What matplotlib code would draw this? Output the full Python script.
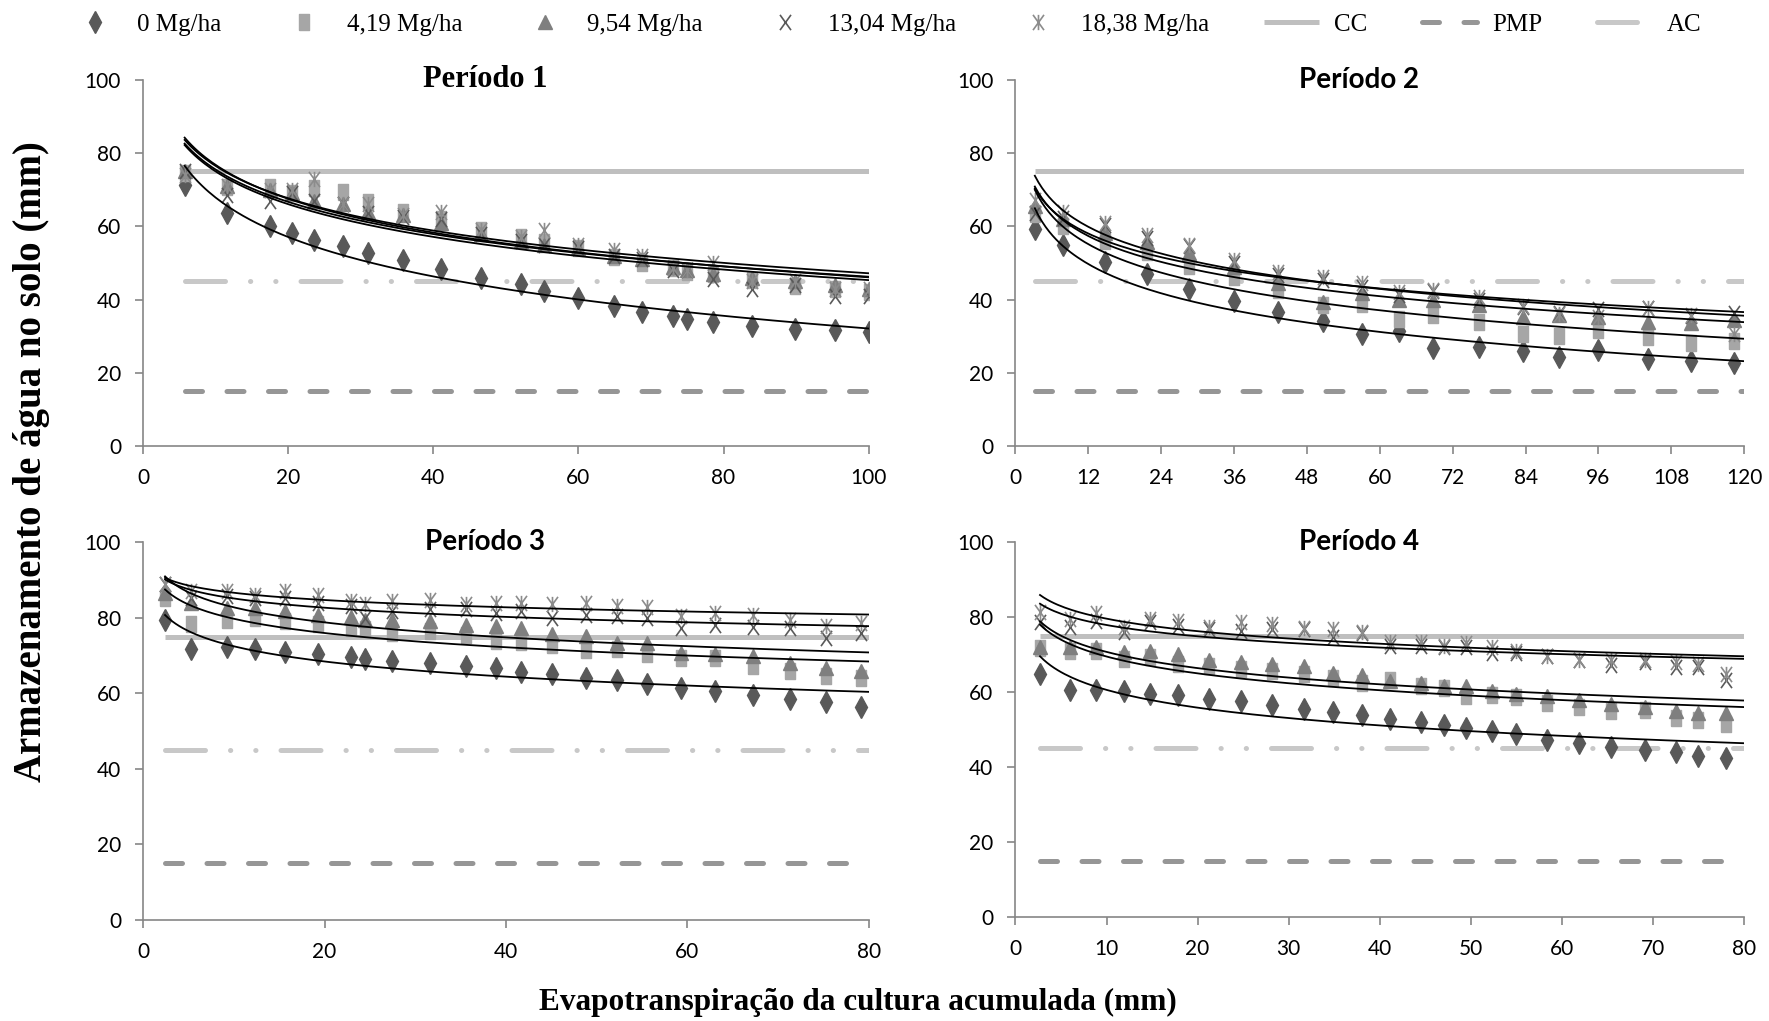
import numpy as np
import matplotlib
matplotlib.use('Agg')
import matplotlib.pyplot as plt
from matplotlib.path import Path
from matplotlib.lines import Line2D

# doses de lodo (legenda)
doses = ['0 Mg/ha', '4,19 Mg/ha', '9,54 Mg/ha', '13,04 Mg/ha', '18,38 Mg/ha']
CC = 75
PMP = 15
AC = 45

# Periodo 1
p1_x = [5.7, 11.6, 17.5, 20.5, 23.6, 27.5, 31.0, 35.8, 41.0, 46.5, 52.1, 55.2, 59.9, 64.9, 68.7, 73.1, 75.0, 78.5, 83.9, 89.8, 95.4, 100.0]
p1_y0 = [71.3, 63.7, 60.2, 58.1, 56.2, 54.6, 52.8, 50.8, 48.3, 45.9, 44.2, 42.4, 40.5, 38.2, 36.6, 35.6, 34.7, 33.9, 32.9, 32.1, 31.6, 31.1]
p1_y419 = [74.5, 70.8, 70.6, 69.0, 70.4, 69.3, 66.5, 64.0, 61.9, 59.0, 57.2, 55.8, 54.2, 51.7, 50.0, 48.5, 47.6, 47.1, 45.3, 43.7, 42.8, 42.1]
p1_y954 = [75.0, 71.0, 70.0, 69.0, 67.0, 66.0, 64.0, 63.0, 61.0, 58.0, 56.0, 55.0, 54.0, 52.0, 51.0, 49.0, 48.0, 47.0, 46.0, 45.0, 44.0, 43.0]
p1_y1304 = [75.0, 68.5, 67.0, 69.0, 67.0, 66.0, 63.5, 62.5, 62.0, 58.0, 56.0, 55.0, 54.0, 52.0, 51.0, 48.0, 48.0, 45.5, 43.0, 44.0, 41.0, 41.0]
p1_y1838 = [74.0, 71.0, 70.0, 70.0, 73.0, 66.0, 66.0, 63.0, 64.0, 59.0, 57.0, 59.0, 55.0, 53.5, 52.0, 48.5, 48.0, 50.0, 45.0, 45.0, 43.0, 43.0]

# Periodo 2
p2_x = [3.2, 7.9, 14.8, 21.7, 28.6, 36.0, 43.3, 50.7, 57.0, 63.1, 68.7, 76.3, 83.5, 89.5, 95.9, 104.1, 111.3, 118.3]
p2_y0 = [59.2, 54.8, 50.2, 47.1, 42.9, 39.7, 36.5, 34.1, 30.7, 31.3, 26.9, 27.1, 25.9, 24.3, 26.3, 23.7, 23.2, 22.7]
p2_y419 = [63.3, 60.2, 56.0, 52.9, 49.2, 46.2, 42.6, 38.5, 38.7, 34.8, 35.7, 33.9, 30.7, 30.1, 31.8, 29.8, 28.2, 28.6]
p2_y954 = [65.4, 61.9, 58.1, 55.8, 52.6, 48.9, 44.4, 39.4, 41.7, 40.0, 39.8, 38.5, 35.3, 35.7, 35.3, 33.9, 33.5, 34.4]
p2_y1304 = [63.5, 62.2, 60.3, 56.7, 54.7, 50.1, 46.7, 45.3, 43.5, 41.2, 42.4, 39.8, 38.0, 36.4, 37.3, 37.6, 35.5, 36.4]
p2_y1838 = [67.2, 64.0, 60.8, 57.6, 54.9, 50.8, 47.6, 46.2, 44.4, 42.1, 42.6, 40.7, 38.2, 36.0, 35.3, 37.6, 35.7, 30.5]

# Periodo 3
p3_x = [2.4, 5.3, 9.2, 12.3, 15.6, 19.3, 22.9, 24.4, 27.4, 31.6, 35.6, 38.9, 41.7, 45.1, 48.8, 52.3, 55.6, 59.3, 63.1, 67.2, 71.3, 75.3, 79.2]
p3_y0 = [79.3, 71.6, 72.2, 71.8, 71.0, 70.5, 69.6, 69.1, 68.5, 67.9, 67.3, 66.6, 65.7, 65.0, 64.1, 63.4, 62.4, 61.5, 60.6, 59.6, 58.4, 57.6, 56.4]
p3_y419 = [85.1, 78.4, 79.5, 80.0, 79.1, 78.4, 77.2, 76.9, 76.0, 76.4, 75.4, 73.8, 73.6, 72.9, 71.4, 71.6, 70.5, 69.4, 69.4, 67.2, 65.9, 64.6, 64.0]
p3_y954 = [86.6, 83.9, 82.6, 82.6, 81.9, 80.8, 80.2, 79.3, 79.5, 79.1, 78.0, 77.8, 77.3, 75.6, 75.1, 73.4, 73.4, 70.7, 70.3, 69.9, 68.1, 66.8, 65.9]
p3_y1304 = [88.8, 85.2, 85.7, 85.2, 85.2, 83.9, 83.0, 80.0, 81.7, 82.2, 82.2, 81.3, 81.9, 80.0, 80.8, 80.4, 80.0, 77.3, 78.2, 77.5, 77.3, 74.7, 76.0]
p3_y1838 = [88.8, 87.0, 87.0, 86.1, 87.0, 85.9, 84.4, 83.7, 84.5, 84.8, 83.7, 83.9, 83.9, 83.5, 83.9, 83.0, 82.8, 80.4, 81.3, 80.8, 79.3, 77.8, 78.6]

# Periodo 4
p4_x = [2.7, 6.0, 8.9, 11.9, 14.8, 17.9, 21.3, 24.8, 28.2, 31.7, 34.9, 38.0, 41.1, 44.5, 47.0, 49.5, 52.3, 54.9, 58.4, 61.9, 65.4, 69.1, 72.5, 74.9, 78.0]
p4_y0 = [64.8, 60.6, 60.6, 60.3, 59.6, 59.2, 58.1, 57.5, 56.6, 55.6, 54.8, 53.9, 52.8, 52.0, 51.2, 50.3, 49.5, 48.7, 47.3, 46.5, 45.4, 44.6, 43.9, 43.0, 42.4]
p4_y419 = [71.7, 71.0, 71.0, 68.8, 69.3, 67.5, 67.0, 66.1, 65.5, 64.8, 63.7, 62.3, 63.2, 61.7, 61.0, 59.0, 59.3, 58.6, 57.2, 55.9, 55.0, 55.2, 53.0, 52.5, 51.6]
p4_y954 = [71.9, 72.1, 71.9, 70.6, 70.9, 70.1, 68.5, 67.9, 67.6, 67.0, 65.0, 64.6, 63.0, 62.3, 61.5, 61.7, 60.3, 59.6, 59.0, 57.8, 56.8, 56.1, 55.0, 54.3, 54.3]
p4_y1304 = [78.6, 77.4, 79.0, 75.9, 78.6, 77.7, 76.8, 76.4, 76.8, 76.8, 74.6, 75.7, 72.4, 72.4, 71.9, 71.9, 70.3, 70.3, 69.7, 68.5, 67.3, 67.9, 66.6, 66.6, 63.2]
p4_y1838 = [81.3, 79.5, 81.0, 77.3, 79.5, 79.0, 77.3, 78.6, 78.2, 77.1, 76.8, 75.9, 73.3, 73.3, 72.4, 73.0, 71.9, 71.0, 69.7, 68.5, 68.5, 68.5, 67.9, 67.6, 64.8]

# marcadores no estilo do Excel (um pouco "altos")
rect = [(-0.33, -0.5), (0.33, -0.5), (0.33, 0.5), (-0.33, 0.5), (-0.33, -0.5)]
xmark = Path([(-0.36, -0.5), (0.36, 0.5), (-0.36, 0.5), (0.36, -0.5)],
             [Path.MOVETO, Path.LINETO, Path.MOVETO, Path.LINETO])
star = Path([(-0.36, -0.5), (0.36, 0.5), (-0.36, 0.5), (0.36, -0.5), (0, -0.5), (0, 0.5)],
            [Path.MOVETO, Path.LINETO, Path.MOVETO, Path.LINETO, Path.MOVETO, Path.LINETO])

styles = [
    dict(marker='d', ms=11, color='#595959', mec='#595959'),
    dict(marker=rect, ms=11, color='#a6a6a6', mec='#a6a6a6'),
    dict(marker='^', ms=10, color='#7f7f7f', mec='#7f7f7f'),
    dict(marker=xmark, ms=11, color='#595959', mec='#595959', mfc='none', mew=1.2),
    dict(marker=star, ms=11, color='#8c8c8c', mec='#8c8c8c', mfc='none', mew=1.2),
]
cc_style = dict(color='#bfbfbf', lw=3.6, solid_capstyle='butt')
pmp_style = dict(color='#969696', lw=3.6, dashes=(3.4, 4.9), dash_capstyle='round')
ac_style = dict(color='#c8c8c8', lw=3.6, dashes=(8, 5, 0.05, 5, 0.05, 5), dash_capstyle='round')

TICK_FONT = 'Lato'
SERIF = 'Liberation Serif'

fig = plt.figure(figsize=(17.69, 10.21), dpi=100)


def panel(rect_, x, ys, xmax, step, title, tfont):
    ax = fig.add_axes(rect_)
    x = np.array(x)
    ax.plot([x[0], xmax], [CC, CC], zorder=1, **cc_style)
    ax.plot([x[0], xmax], [PMP, PMP], zorder=1, **pmp_style)
    ax.plot([x[0], xmax], [AC, AC], zorder=1, **ac_style)
    for y, st in zip(ys, styles):
        ax.plot(x, y, ls='none', zorder=2, **st)
    # linhas de tendencia logaritmicas
    xx = np.linspace(x[0], xmax, 200)
    for y in ys:
        c = np.polyfit(np.log(x), y, 1)
        ax.plot(xx, np.polyval(c, np.log(xx)), color='black', lw=1.3, zorder=3)
    ax.set_xlim(0, xmax)
    ax.set_ylim(0, 100)
    ax.set_xticks(np.arange(0, xmax + 0.1, step))
    ax.set_yticks(np.arange(0, 101, 20))
    for s in ['top', 'right']:
        ax.spines[s].set_visible(False)
    for s in ['left', 'bottom']:
        ax.spines[s].set_color('#868686')
        ax.spines[s].set_linewidth(1.2)
    ax.tick_params(direction='out', length=6, width=1.2, color='#868686',
                   labelsize=15, pad=10)
    for lab in ax.get_xticklabels() + ax.get_yticklabels():
        lab.set_fontfamily(TICK_FONT)
    ax.text(0.471, 1.0, title, transform=ax.transAxes, ha='center', va='center',
            fontsize=tfont[1], fontweight='bold', family=tfont[0])
    return ax


panel([0.081, 0.563, 0.410, 0.359], p1_x, [p1_y0, p1_y419, p1_y954, p1_y1304, p1_y1838],
      100, 20, 'Período 1', (SERIF, 22))
panel([0.574, 0.563, 0.412, 0.359], p2_x, [p2_y0, p2_y419, p2_y954, p2_y1304, p2_y1838],
      120, 12, 'Período 2', (TICK_FONT, 20))
panel([0.081, 0.099, 0.410, 0.370], p3_x, [p3_y0, p3_y419, p3_y954, p3_y1304, p3_y1838],
      80, 20, 'Período 3', (TICK_FONT, 20))
panel([0.574, 0.102, 0.412, 0.367], p4_x, [p4_y0, p4_y419, p4_y954, p4_y1304, p4_y1838],
      80, 10, 'Período 4', (TICK_FONT, 20))

fig.text(0.018, 0.548, 'Armazenamento de água no solo (mm)', rotation=90, ha='center', va='center',
         fontsize=28, fontweight='bold', family=SERIF)
fig.text(0.485, 0.018, 'Evapotranspiração da cultura acumulada (mm)', ha='center', va='center',
         fontsize=22.5, fontweight='bold', family=SERIF)

handles = [Line2D([], [], ls='none', **st) for st in styles]
handles += [Line2D([], [], **cc_style), Line2D([], [], **pmp_style), Line2D([], [], **ac_style)]
labels = doses + ['CC', 'PMP', 'AC']
fig.legend(handles, labels, loc='center', bbox_to_anchor=(0.5, 0.976), ncol=8, frameon=False,
           prop={'family': SERIF, 'size': 18}, handlelength=2.2, handletextpad=0.6,
           columnspacing=2.2, borderaxespad=0)

fig.savefig('out.png', dpi=100)
